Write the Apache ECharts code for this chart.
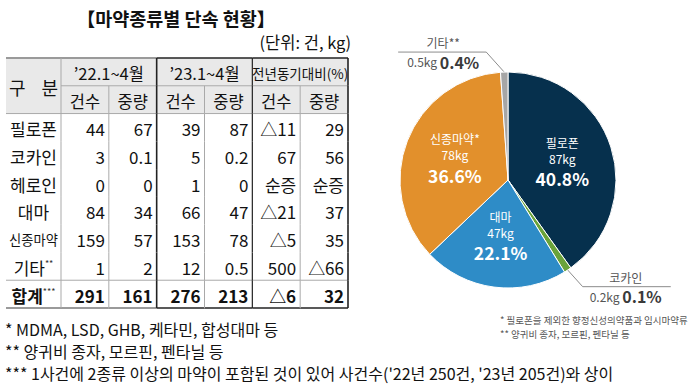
<!DOCTYPE html>
<html><head><meta charset="utf-8">
<script src="https://cdn.jsdelivr.net/npm/echarts@6/dist/echarts.min.js"></script>
<style>html,body{margin:0;padding:0;background:#fff}#c{width:700px;height:385px}</style>
</head><body><div id="c"></div>
<script>
// ---- table data ----
const rowNames = ['필로폰','코카인','헤로인','대마','신종마약','기타','합계'];
const rowMarks = ['','','','','','**','***'];
const periodHeaders = ['\u201922.1~4월','\u201923.1~4월','전년동기대비(%)'];
const subHeaders = ['건수','중량'];
const cases22 = [44,3,0,84,159,1,291];
const weight22 = [67,0.1,0,34,57,2,161];
const cases23 = [39,5,1,66,153,12,276];
const weight23 = [87,0.2,0,47,78,0.5,213];
const casesChange = ['△11','67','순증','△21','△5','500','△6'];
const weightChange = ['29','56','순증','37','35','△66','32'];
// ---- pie data ----
const pieNames = ['필로폰','코카인','대마','신종마약','기타'];
const pieMarks = ['','','','*','**'];
const pieKg = [87,0.2,47,78,0.5];
const pieShare = [40.8,0.1,22.1,36.6,0.4];
const pieColors = ['#06304d','#6aa33a','#2e8cc7','#e2902c','#a6a6a6'];
const pieOutside = [false,true,false,false,true];
// ---- texts ----
const chartTitle = '【마약종류별 단속 현황】';
const unitText = '(단위: 건, kg)';
const footnotes = ['* MDMA, LSD, GHB, 케타민, 합성대마 등','** 양귀비 종자, 모르핀, 펜타닐 등',"*** 1사건에 2종류 이상의 마약이 포함된 것이 있어 사건수('22년 250건, '23년 205건)와 상이"];
const pieNotes = ['* 필로폰을 제외한 향정신성의약품과 임시마약류','** 양귀비 종자, 모르핀, 펜타닐 등'];

const FF = '"Noto Sans CJK KR", "Noto Sans", sans-serif';
const rowKeys = ['h0','h1'].concat(rowNames);
const colKeys = ['c0','c1','c2','c3','c4','c5'];

// cells of data columns
const cells = [];
periodHeaders.forEach((t,i)=>cells.push({col:i*2,row:0,span:2,text:t,type:'head'}));
for (let i=0;i<3;i++) subHeaders.forEach((t,j)=>cells.push({col:i*2+j,row:1,span:1,text:t,type:'sub'}));
rowNames.forEach((n,r)=>{
  [cases22[r],weight22[r],cases23[r],weight23[r],casesChange[r],weightChange[r]].forEach((v,c)=>
    cells.push({col:c,row:r+2,span:1,text:String(v),type:r===rowNames.length-1?'total':'num'}));
});
// cells of label column
const labelCells = [{row:0,rspan:2,text:'구    분',type:'head'}].concat(
  rowNames.map((n,r)=>({row:r+2,rspan:1,text:n,mark:rowMarks[r],type:r===rowNames.length-1?'total':'name'})));

const GREY = '#a9a9a9', DARK = '#222';
function hLines(row, x0, x1, y0, y1, inBox, isDataCol){
  const out = [];
  const mk = (y, stroke, lw) => out.push({type:'line', z2:10, shape:{x1:x0,y1:y,x2:x1,y2:y}, style:{stroke, lineWidth:lw}});
  if (row === 0) mk(y0, inBox ? DARK : '#9a9a9a', inBox ? 1.6 : 2);
  if (row === 0 && isDataCol) mk(y1, GREY, 1);
  if (row === 1) mk(y1, GREY, 1);
  if (row === rowKeys.length - 2) mk(y1, GREY, 1);
  if (row === rowKeys.length - 1) mk(y1, inBox ? DARK : '#9a9a9a', inBox ? 1.6 : 2);
  return out;
}

function renderData(params, api){
  const c = cells[params.dataIndex];
  const p = api.coord([c.col, c.row]);
  const sz = api.size([1,1]);
  const x0 = p[0]-sz[0]/2, y0 = p[1]-sz[1]/2;
  const w = sz[0]*c.span, h = sz[1];
  const ch = [];
  if (c.row < 2) ch.push({type:'rect', z2:0, shape:{x:x0,y:y0,width:w,height:h}, style:{fill:'#e9e9e9'}});
  const isNum = c.type==='num' || c.type==='total';
  const fs = c.type==='head' ? (c.text.length > 8 ? 13.5 : 16.5) : (c.type==='sub' ? 16.5 : 17);
  ch.push({type:'text', z2:5, style:{text:c.text, x: isNum ? x0+w-4 : x0+w/2, y:y0+h/2+1,
    align: isNum ? 'right' : 'center', verticalAlign:'middle', fontSize:fs, fontFamily:FF,
    fontWeight: c.type==='total' ? 'bold' : 'normal', fill:'#111'}});
  const rc = c.col + c.span - 1;
  const dark = rc===1 || rc===3 || rc===5;
  ch.push({type:'line', z2:11, shape:{x1:x0+w,y1:y0,x2:x0+w,y2:y0+h}, style:{stroke: dark?DARK:GREY, lineWidth: dark ? (rc===3?1.2:1.6) : 1}});
  hLines(c.row, x0, x0+w, y0, y0+h, c.col>=2, true).forEach(l=>ch.push(l));
  return {type:'group', children:ch};
}

function renderLabel(params, api){
  const c = labelCells[params.dataIndex];
  const p = api.coord([0, c.row]);
  const sz = api.size([1,1]);
  const x0 = p[0]-sz[0]/2, y0 = p[1]-sz[1]/2;
  const w = sz[0], h = sz[1]*c.rspan;
  const ch = [];
  if (c.row < 2) ch.push({type:'rect', z2:0, shape:{x:x0,y:y0,width:w,height:h}, style:{fill:'#e9e9e9'}});
  const fs = c.type==='head' ? 18 : Math.min(17, (w-2)/c.text.length);
  const bold = c.type==='total' ? 'bold' : 'normal';
  ch.push({type:'text', z2:5, style:{
    text: c.mark ? '{a|'+c.text+'}{s|'+c.mark+'}' : '{a|'+c.text+'}',
    x:x0+w/2, y:y0+h/2+1, align:'center', verticalAlign:'middle',
    rich:{a:{fontSize:fs, fontFamily:FF, fontWeight:bold, fill:'#111'}, s:{fontSize:9, fontFamily:FF, fill:'#333', verticalAlign:'top'}}}});
  ch.push({type:'line', z2:11, shape:{x1:x0+w,y1:y0,x2:x0+w,y2:y0+h}, style:{stroke:GREY, lineWidth:1}});
  const rows = c.rspan===2 ? [0,1] : [c.row];
  rows.forEach(r=>{
    const yy0 = y0 + (r-c.row)*sz[1];
    hLines(r, x0, x0+w, yy0, yy0+sz[1], false, false).forEach(l=>ch.push(l));
  });
  return {type:'group', children:ch};
}

const pieData = pieNames.map((n,i)=>{
  const d = {name:n, value:pieKg[i], itemStyle:{color:pieColors[i]}};
  if (pieOutside[i]) {
    d.label = {position:'outside', formatter: '{n|'+n+pieMarks[i]+'}\n{k|'+pieKg[i]+'kg} {b|'+pieShare[i].toFixed(1)+'%}'};
    d.labelLine = {show:true};
  } else {
    d.label = {position:'inside', formatter: '{w|'+n+pieMarks[i]+'}\n{w|'+pieKg[i]+'kg}\n{p|'+pieShare[i].toFixed(1)+'%}'};
  }
  return d;
});

const graphics = [
  {type:'text', x:176, y:18, style:{text:chartTitle, align:'center', verticalAlign:'middle', fontSize:18.5, fontWeight:'bold', fontFamily:FF, fill:'#111'}},
  {type:'text', x:351, y:42, style:{text:unitText, align:'right', verticalAlign:'middle', fontSize:16.5, fontFamily:FF, fill:'#111'}}
];
footnotes.forEach((t,i)=>graphics.push({type:'text', x:5, y:329+i*22, style:{text:t, align:'left', verticalAlign:'middle', fontSize:16, fontFamily:FF, fill:'#111'}}));
pieNotes.forEach((t,i)=>graphics.push({type:'text', x:500, y:320+i*14, style:{text:t, align:'left', verticalAlign:'middle', fontSize:9.5, fontFamily:FF, fill:'#555'}}));

const chart = echarts.init(document.getElementById('c'), null, {renderer:'svg'});
chart.setOption({
  animation:false,
  backgroundColor:'#fff',
  grid:[{left:6, top:58, width:55, height:250}, {left:61, top:58, width:287, height:250}],
  xAxis:[{type:'category', gridIndex:0, data:['label'], show:false}, {type:'category', gridIndex:1, data:colKeys, show:false}],
  yAxis:[{type:'category', gridIndex:0, data:rowKeys, inverse:true, show:false}, {type:'category', gridIndex:1, data:rowKeys, inverse:true, show:false}],
  graphic: graphics,
  series:[
    {type:'custom', xAxisIndex:0, yAxisIndex:0, renderItem:renderLabel, data:labelCells.map(c=>[0,c.row]), silent:true},
    {type:'custom', xAxisIndex:1, yAxisIndex:1, renderItem:renderData, data:cells.map(c=>[c.col,c.row]), silent:true},
    {type:'pie', center:[508,180], radius:108, startAngle:90, clockwise:true, minAngle:4,
     avoidLabelOverlap:false, silent:true,
     itemStyle:{borderColor:'#fff', borderWidth:1},
     label:{fontFamily:FF, lineHeight:16,
       rich:{
         w:{fontSize:12, color:'#fff', fontFamily:FF, lineHeight:16},
         p:{fontSize:17.5, fontWeight:'bold', color:'#fff', fontFamily:FF, lineHeight:25},
         n:{fontSize:12, color:'#555', fontFamily:FF, lineHeight:19},
         k:{fontSize:12, color:'#555', fontFamily:FF, lineHeight:19},
         b:{fontSize:16, fontWeight:'bold', color:'#3a3a3a', fontFamily:FF, lineHeight:19}
       }},
     labelLine:{length:20, length2:8, lineStyle:{color:'#8c8c8c', width:1}},
     labelLayout: function(p){
       const pts = p.labelLinePoints;
       if (!pts || pts.length < 3) return {};
       const side = pts[2][0] < pts[1][0] ? -1 : 1;
       const dy = pts[1][1]-pts[0][1];
       const mx = pts[0][0] + side*Math.max(Math.abs(pts[1][0]-pts[0][0]), 0.9*Math.abs(dy));
       const my = pts[1][1];
       const w = p.labelRect.width;
       return {x: mx + side*(7 + w/2), y: my, align:'center', verticalAlign:'middle',
         labelLinePoints:[pts[0], [mx,my], [mx + side*(7 + w + 9), my]]};
     },
     data: pieData}
  ]
});
</script></body></html>
